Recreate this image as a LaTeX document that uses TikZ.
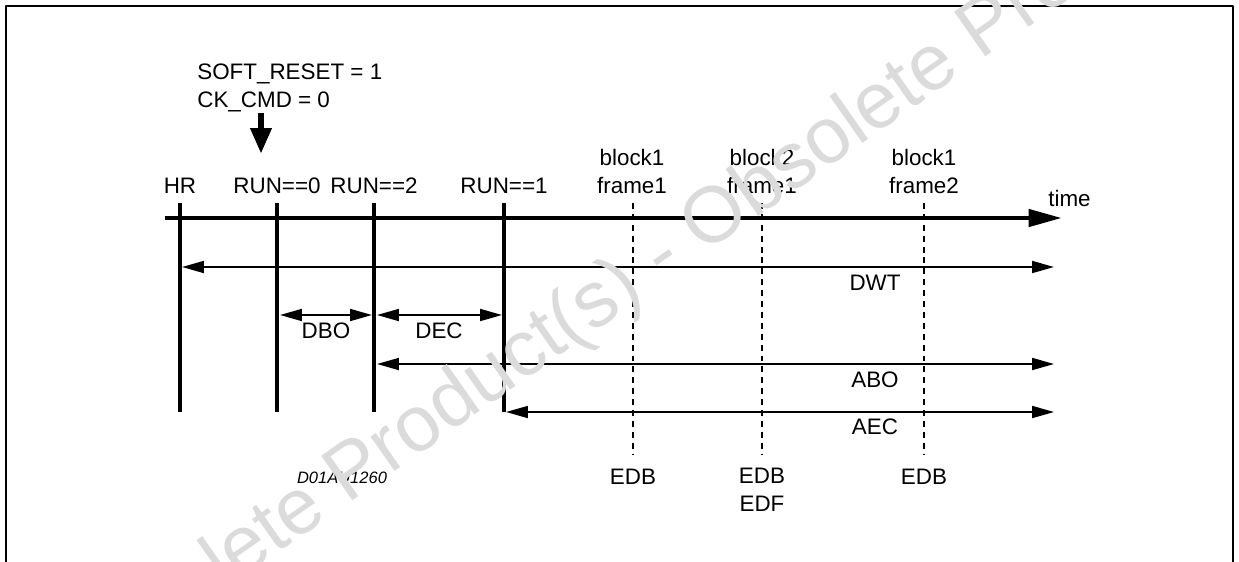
\documentclass[tikz,border=0pt]{standalone}
\usepackage{fontspec}
\setmainfont{Liberation Sans}
\usetikzlibrary{arrows.meta}

\begin{document}
\begin{tikzpicture}[x=0.02cm, y=-0.02cm, line join=round,
    lbl/.style={font=\fontsize{12.75}{15.4}\selectfont, inner sep=0pt, anchor=base},
    evtline/.style={line width=2.5pt},
    frmline/.style={line width=1.3pt, dash pattern=on 3.4pt off 2.8pt},
    dimarrow/.style={line width=1.1pt, {Triangle[length=12.5pt,width=6.8pt]}-{Triangle[length=12.5pt,width=6.8pt]}}]
    \useasboundingbox (0,0) rectangle (1239,561);

    % 外框
    \coordinate (BL) at (6,570);
    \coordinate (TL) at (6,6);
    \coordinate (TR) at (1233,6);
    \coordinate (BR) at (1233,570);
    \draw[line width=1.4pt] (BL) -- (TL) -- (TR) -- (BR);

    % 事件位置
    \coordinate (HR) at (180,203);
    \coordinate (RUN0) at (277,203);
    \coordinate (RUN2) at (374,203);
    \coordinate (RUN1) at (504,203);
    \coordinate (HRb) at (180,412);
    \coordinate (RUN0b) at (277,412);
    \coordinate (RUN2b) at (374,412);
    \coordinate (RUN1b) at (504,412);

    \coordinate (F1) at (633,203);
    \coordinate (F2) at (762,203);
    \coordinate (F3) at (924,203);
    \coordinate (F1b) at (633,455);
    \coordinate (F2b) at (762,455);
    \coordinate (F3b) at (924,455);

    % 时间轴
    \coordinate (T0) at (165,218);
    \coordinate (T1) at (1062,218);
    \draw[line width=2.8pt, -{Triangle[length=19pt,width=9.6pt]}] (T0) -- (T1);

    % 竖线
    \draw[evtline] (HR) -- (HRb);
    \draw[evtline] (RUN0) -- (RUN0b);
    \draw[evtline] (RUN2) -- (RUN2b);
    \draw[evtline] (RUN1) -- (RUN1b);
    \draw[frmline] (F1) -- (F1b);
    \draw[frmline] (F2) -- (F2b);
    \draw[frmline] (F3) -- (F3b);

    % 区间箭头
    \coordinate (DWTa) at (182,267);
    \coordinate (DWTb) at (1054,267);
    \coordinate (DBOa) at (280,315);
    \coordinate (DBOb) at (372,315);
    \coordinate (DECa) at (377,315);
    \coordinate (DECb) at (502,315);
    \coordinate (ABOa) at (377,364);
    \coordinate (ABOb) at (1054,364);
    \coordinate (AECa) at (506,412);
    \coordinate (AECb) at (1054,412);
    \draw[dimarrow] (DWTa) -- (DWTb);
    \draw[dimarrow] (DBOa) -- (DBOb);
    \draw[dimarrow] (DECa) -- (DECb);
    \draw[dimarrow] (ABOa) -- (ABOb);
    \draw[dimarrow] (AECa) -- (AECb);

    % 复位命令
    \node[lbl, anchor=base west, align=left] (softlbl) at (197,107) {SOFT\_RESET = 1\\CK\_CMD = 0};
    \coordinate (S0) at (261,113);
    \coordinate (S1) at (261,154);
    \draw[line width=3.7pt, -{Triangle[length=14.7pt,width=11.3pt]}] (S0) -- (S1);

    % 标注
    \node[lbl] (hrlbl) at (180,193) {HR};
    \node[lbl] (run0lbl) at (277,193) {RUN==0};
    \node[lbl] (run2lbl) at (374,193) {RUN==2};
    \node[lbl] (run1lbl) at (504,193) {RUN==1};
    \node[lbl, align=center] (f1lbl) at (632,193) {block1\\frame1};
    \node[lbl, align=center] (f2lbl) at (762,193) {block2\\frame1};
    \node[lbl, align=center] (f3lbl) at (924,193) {block1\\frame2};
    \node[lbl, anchor=base west] (timelbl) at (1048,206) {time};

    \node[lbl] (dwtlbl) at (875,290) {DWT};
    \node[lbl] (dbolbl) at (326,338) {DBO};
    \node[lbl] (declbl) at (439,338) {DEC};
    \node[lbl] (abolbl) at (875,387) {ABO};
    \node[lbl] (aeclbl) at (875,434) {AEC};

    \node[lbl] (edb1) at (633,484) {EDB};
    \node[lbl, align=center] (edb2) at (762,511) {EDB\\EDF};
    \node[lbl] (edb3) at (924,484) {EDB};
    \node[lbl, font=\fontsize{9.4}{11}\selectfont\itshape] (figid) at (342,483) {D01AU1260};

    % 水印
    \node[anchor=base, rotate=35, text=black!14, inner sep=0pt,
        font=\fontsize{45}{50}\selectfont] (wmark) at (675,275) {Obsolete Product(s) - Obsolete Product(s)};
\end{tikzpicture}
\end{document}
